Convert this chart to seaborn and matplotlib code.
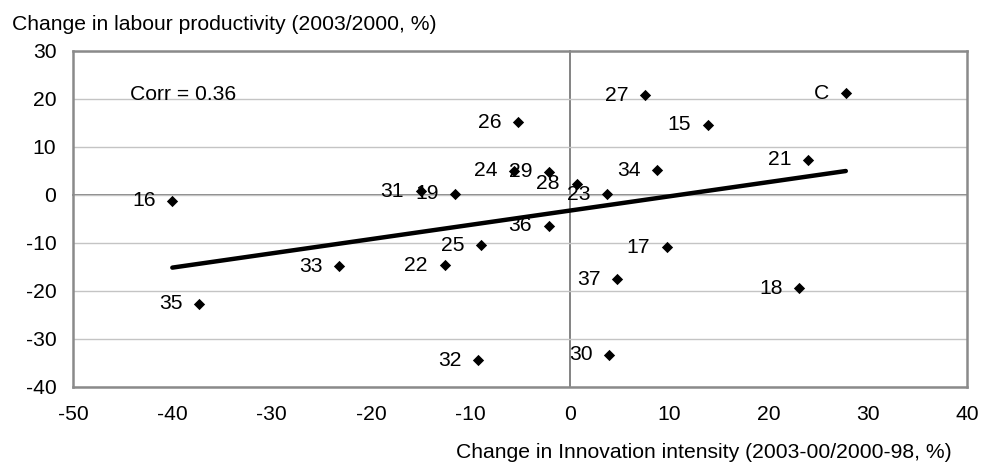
import matplotlib
matplotlib.use("Agg")
import matplotlib.pyplot as plt
import seaborn as sns
import pandas as pd
import numpy as np

# ---- data ----
labels = ["16", "35", "33", "31", "19", "22", "32", "25", "26", "24", "29", "36",
          "28", "23", "30", "37", "27", "34", "17", "15", "18", "21", "C"]
innovation = [-40.0, -37.3, -23.2, -15.0, -11.5, -12.6, -9.2, -8.9, -5.2, -5.6, -2.1, -2.1,
              0.7, 3.8, 4.0, 4.8, 7.6, 8.8, 9.8, 13.9, 23.1, 24.0, 27.8]
productivity = [-1.25, -22.7, -14.8, 0.8, 0.3, -14.6, -34.4, -10.5, 15.2, 5.1, 4.85, -6.4,
                2.3, 0.15, -33.3, -17.6, 20.8, 5.2, -10.9, 14.6, -19.4, 7.3, 21.2]
x_ticks = [-50, -40, -30, -20, -10, 0, 10, 20, 30, 40]
y_ticks = [-40, -30, -20, -10, 0, 10, 20, 30]
corr_text = "Corr = 0.36"
x_title = "Change in Innovation intensity (2003-00/2000-98, %)"
y_title = "Change in labour productivity (2003/2000, %)"

df = pd.DataFrame({"label": labels, "x": innovation, "y": productivity})

sns.set_theme(style="white")
plt.rcParams["font.family"] = ["Liberation Sans", "DejaVu Sans"]
FS = 15.2

W, H = 981, 467
fig = plt.figure(figsize=(W / 100, H / 100), dpi=100)
L, R, T, B = 73, 967, 51, 387
pos = [L / W, (H - B) / H, (R - L) / W, (B - T) / H]
ax = fig.add_axes(pos)

# main points
sns.scatterplot(data=df, x="x", y="y", marker="D", s=33, color="#000000",
                linewidth=0, ax=ax, zorder=4)
# trend line (OLS fit)
sns.regplot(data=df, x="x", y="y", ci=None, scatter=False, truncate=True,
            line_kws={"color": "black", "lw": 3.2, "solid_capstyle": "round"}, ax=ax)

for lab, xv, yv in zip(labels, innovation, productivity):
    ax.annotate(lab, (xv, yv), xytext=(-12, 0), textcoords="offset points",
                ha="right", va="center", fontsize=FS, color="black", zorder=5)

ax.set_xlim(x_ticks[0], x_ticks[-1])
ax.set_ylim(y_ticks[0], y_ticks[-1])
ax.set_xticks(x_ticks)
ax.set_yticks(y_ticks)
ax.set_xticklabels([str(t) for t in x_ticks])
ax.set_yticklabels([str(t) for t in y_ticks])
ax.tick_params(axis="both", length=0, labelsize=FS, colors="black")
ax.tick_params(axis="x", pad=13)
ax.tick_params(axis="y", pad=12)
ax.set_xlabel("")
ax.set_ylabel("")
ax.yaxis.grid(True, color="#c4c4c4", lw=1.0)
ax.xaxis.grid(False)
ax.set_axisbelow(True)
for s in ax.spines.values():
    s.set_color("#8a8a8a")
    s.set_linewidth(1.8)
    s.set_visible(True)

ax.text(0.064, 0.87, corr_text, transform=ax.transAxes, fontsize=FS,
        ha="left", va="center", color="black")

# overlay axes for the zero-crossing axes with ticks
ax2 = fig.add_axes(pos, sharex=ax, sharey=ax)
ax2.spines["left"].set_position(("data", 0))
ax2.spines["bottom"].set_position(("data", 0))
ax2.spines["top"].set_visible(False)
ax2.spines["right"].set_visible(False)
for s in ("left", "bottom"):
    ax2.spines[s].set_color("#6e6e6e")
    ax2.spines[s].set_linewidth(1.2)
ax2.tick_params(axis="both", direction="out", length=5, width=1.0, color="#6e6e6e",
                labelleft=False, labelbottom=False)
ax2.grid(False)
ax2.set_zorder(ax.get_zorder() - 1)
ax.patch.set_alpha(0)
ax2.patch.set_facecolor("white")
ax2.patch.set_alpha(1)

fig.text(12 / W, 1 - 25 / H, y_title, fontsize=FS, ha="left", va="center", color="black")
fig.text(952 / W, 1 - 453 / H, x_title, fontsize=FS, ha="right", va="center", color="black")

fig.savefig("out.png", dpi=100, facecolor="white")
